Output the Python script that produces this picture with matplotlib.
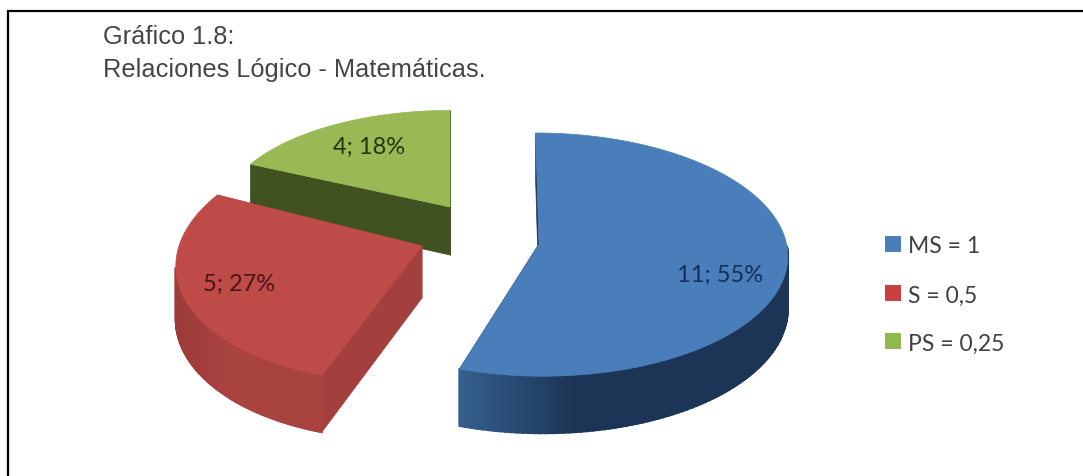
import numpy as np
import matplotlib
matplotlib.use("Agg")
import matplotlib.pyplot as plt

# data
labels = ["MS = 1", "S = 0,5", "PS = 0,25"]
counts = [11, 5, 4]
percents = [55, 27, 18]

# colours: top, wall near the left end, wall near the right end, cut face
top_colors = ["#4a7ebb", "#be4b48", "#98b954"]
wall_left = ["#35608f", "#9c3b39", "#4a5f28"]
wall_right = ["#1c3556", "#a84340", "#4a5f28"]
cut_colors = ["#1d3557", "#a33f3c", "#3f5220"]
legend_colors = ["#4a7ebb", "#c8403f", "#93b94e"]
text_colors = ["#10305c", "#4a1416", "#24360c"]

# layout of each slice, in pixels: apex, scale, shear, depth
apex_x = [539, 422, 450]
apex_y = [245, 247, 208]
scale_x = [0.99, 0.972, 0.91]
scale_y = [1.0, 1.03, 0.86]
shear = [0.03, -0.14, 0.0]
depth = [52, 52, 48]
label_x = [720, 239, 369]
label_y = [275, 284, 147]

RX = 250
RY = 120.7
PERSP = 0.087


def project(i, theta):
    # theta runs clockwise from the top of the pie, in degrees
    t = np.radians(theta)
    u = np.sin(t) * scale_x[i]
    v = np.cos(t) * scale_y[i]
    w = 1 + PERSP * v
    dy = -RY * v / w
    dx = RX * u / w + shear[i] * dy
    return apex_x[i] + dx, apex_y[i] + dy, depth[i] / w


fig = plt.figure(figsize=(10.83, 4.77), dpi=100)
ax = fig.add_axes([0, 0, 1, 1])
ax.set_xlim(0, 1083)
ax.set_ylim(477, 0)
ax.axis("off")

# frame of the picture, only top and left are there
ax.plot([8, 8, 1083], [477, 11.5, 11.5], color="black", lw=1.6, solid_joinstyle="miter")

shares = np.array(percents) / sum(percents) * 360
starts = np.concatenate([[0], np.cumsum(shares)[:-1]])

# far slices first so that the near ones cover them
for i in [2, 1, 0]:
    a0, a1 = starts[i], starts[i] + shares[i]
    theta = np.linspace(a0, a1, 160)
    x, y, d = project(i, theta)
    cx, cy = apex_x[i], apex_y[i]
    apex_d = depth[i]

    # cut faces
    for k in [0, -1]:
        ax.fill([cx, x[k], x[k], cx], [cy, y[k], y[k] + d[k], cy + apex_d],
                color=cut_colors[i], lw=0.5)

    # outer wall in thin strips to get the shading, only the part facing us
    c_left = np.array(matplotlib.colors.to_rgb(wall_left[i]))
    c_right = np.array(matplotlib.colors.to_rgb(wall_right[i]))
    for k in range(len(theta) - 1):
        if theta[k] < 90 or theta[k] > 260:
            continue
        f = np.clip((x[k] - x.min()) / (0.35 * (x.max() - x.min())), 0, 1)
        c = c_left + (c_right - c_left) * f
        ax.fill([x[k], x[k + 1], x[k + 1], x[k]],
                [y[k], y[k + 1], y[k + 1] + d[k + 1], y[k] + d[k]],
                color=c, lw=1.5)

    # top surface
    ax.fill(np.r_[cx, x], np.r_[cy, y], color=top_colors[i], lw=0.5)

    ax.text(label_x[i], label_y[i], "%d; %d%%" % (counts[i], percents[i]),
            family="Lato", fontsize=17, color=text_colors[i], ha="center", va="center")

# legend
legend_y = [245, 294, 342]
for i in range(3):
    ax.scatter([893], [legend_y[i]], marker="s", s=140, color=legend_colors[i], lw=0)
    ax.text(908, legend_y[i] + 2, labels[i], family="Lato", fontsize=16.5, color="#404040", va="center")

ax.text(103, 44, "Gráfico 1.8:", family="Liberation Sans", fontsize=18.3, color="#454545")
ax.text(103, 77, "Relaciones Lógico - Matemáticas.", family="Liberation Sans", fontsize=18.3,
        color="#454545")

plt.savefig("out.png", dpi=100)
